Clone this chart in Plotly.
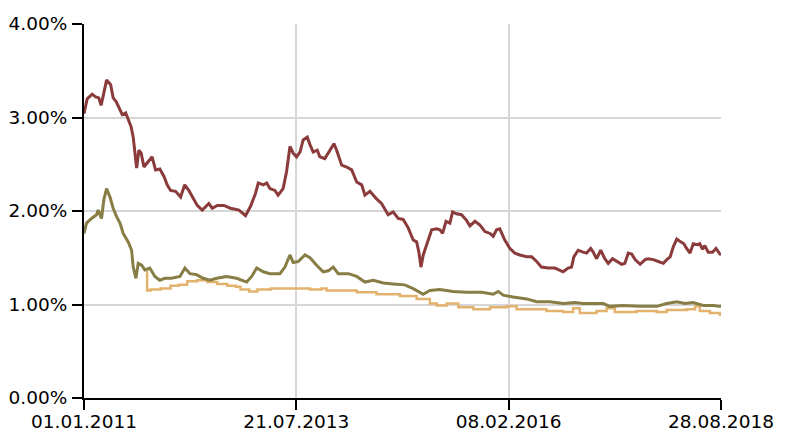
import plotly.graph_objects as go

# Series 1 (dark red)
red_dates = ["2011-01-01","2011-01-15","2011-02-06","2011-02-21","2011-03-07","2011-03-17","2011-03-29","2011-04-10","2011-04-28","2011-05-09","2011-05-22","2011-06-03","2011-06-18","2011-07-03","2011-07-17","2011-07-27","2011-08-05","2011-08-15","2011-08-20","2011-08-30","2011-09-09","2011-09-21","2011-10-05","2011-10-27","2011-11-11","2011-11-30","2011-12-18","2012-01-01","2012-01-16","2012-02-07","2012-02-29","2012-03-18","2012-04-05","2012-04-20","2012-05-12","2012-06-03","2012-07-02","2012-07-17","2012-08-08","2012-09-06","2012-10-05","2012-11-11","2012-12-10","2013-01-01","2013-01-23","2013-02-04","2013-02-26","2013-03-13","2013-03-27","2013-04-18","2013-05-02","2013-05-24","2013-06-08","2013-06-23","2013-07-07","2013-07-22","2013-08-06","2013-08-20","2013-09-07","2013-09-19","2013-10-03","2013-10-21","2013-11-01","2013-11-23","2013-12-15","2014-01-02","2014-01-14","2014-02-05","2014-02-27","2014-03-21","2014-04-12","2014-05-04","2014-05-18","2014-06-09","2014-07-08","2014-07-30","2014-08-28","2014-09-19","2014-10-11","2014-11-02","2014-11-24","2014-12-16","2014-12-31","2015-01-10","2015-01-19","2015-01-29","2015-02-13","2015-03-07","2015-03-29","2015-04-12","2015-04-24","2015-05-09","2015-05-26","2015-06-07","2015-06-24","2015-07-16","2015-08-07","2015-08-22","2015-09-13","2015-10-05","2015-10-27","2015-11-18","2015-12-02","2015-12-17","2015-12-31","2016-01-22","2016-02-13","2016-03-06","2016-03-28","2016-04-27","2016-05-19","2016-06-10","2016-07-01","2016-07-30","2016-08-29","2016-09-20","2016-10-04","2016-10-26","2016-11-10","2016-11-20","2016-12-09","2016-12-31","2017-01-15","2017-02-02","2017-02-13","2017-02-28","2017-03-18","2017-04-05","2017-04-20","2017-05-09","2017-05-29","2017-06-18","2017-07-02","2017-07-17","2017-08-01","2017-08-16","2017-09-07","2017-09-29","2017-10-13","2017-11-04","2017-11-26","2017-12-18","2018-01-02","2018-01-17","2018-01-31","2018-02-15","2018-03-04","2018-03-18","2018-03-30","2018-04-14","2018-04-28","2018-05-16","2018-05-27","2018-06-08","2018-06-18","2018-07-03","2018-07-22","2018-08-06","2018-08-23","2018-08-28"]
red_values = [3.04,3.20,3.25,3.22,3.21,3.13,3.26,3.40,3.35,3.21,3.17,3.10,3.03,3.05,2.97,2.90,2.79,2.58,2.46,2.65,2.62,2.47,2.51,2.58,2.44,2.45,2.37,2.28,2.22,2.21,2.15,2.28,2.22,2.15,2.06,2.01,2.08,2.03,2.06,2.06,2.03,2.01,1.95,2.05,2.19,2.30,2.28,2.30,2.24,2.22,2.17,2.24,2.42,2.69,2.62,2.58,2.63,2.76,2.79,2.71,2.63,2.65,2.58,2.56,2.65,2.72,2.65,2.49,2.47,2.44,2.31,2.28,2.17,2.21,2.13,2.08,1.96,1.99,1.92,1.91,1.82,1.69,1.67,1.56,1.40,1.53,1.64,1.80,1.81,1.80,1.76,1.89,1.87,1.99,1.97,1.96,1.90,1.84,1.89,1.85,1.78,1.76,1.73,1.80,1.81,1.69,1.60,1.55,1.53,1.51,1.51,1.46,1.40,1.39,1.39,1.37,1.35,1.39,1.40,1.51,1.58,1.56,1.55,1.60,1.56,1.49,1.58,1.49,1.44,1.49,1.46,1.43,1.44,1.55,1.54,1.48,1.43,1.48,1.49,1.48,1.46,1.44,1.48,1.51,1.62,1.70,1.67,1.65,1.60,1.55,1.65,1.64,1.65,1.59,1.63,1.56,1.56,1.60,1.54,1.53]

# Series 2 (olive)
olive_dates = ["2011-01-01","2011-01-12","2011-02-03","2011-02-25","2011-03-04","2011-03-19","2011-03-29","2011-04-10","2011-04-25","2011-05-09","2011-05-24","2011-06-08","2011-06-22","2011-07-14","2011-07-29","2011-08-05","2011-08-17","2011-08-27","2011-09-11","2011-09-25","2011-10-17","2011-11-08","2011-11-30","2011-12-22","2012-01-20","2012-02-26","2012-03-19","2012-04-10","2012-05-09","2012-06-07","2012-07-07","2012-08-05","2012-09-18","2012-11-01","2012-12-15","2013-01-06","2013-01-28","2013-02-26","2013-03-27","2013-05-10","2013-06-01","2013-06-23","2013-07-07","2013-07-29","2013-08-28","2013-09-19","2013-10-18","2013-11-16","2013-12-08","2013-12-30","2014-01-21","2014-03-06","2014-04-12","2014-05-18","2014-06-24","2014-08-07","2014-09-19","2014-11-09","2014-12-16","2015-01-07","2015-01-29","2015-02-27","2015-04-12","2015-06-09","2015-08-07","2015-10-12","2015-12-02","2015-12-24","2016-01-15","2016-02-28","2016-04-27","2016-06-10","2016-08-07","2016-10-04","2016-11-24","2016-12-31","2017-02-28","2017-03-29","2017-04-27","2017-06-25","2017-09-07","2017-11-19","2018-01-02","2018-02-15","2018-03-23","2018-04-28","2018-06-11","2018-07-25","2018-08-23","2018-08-28"]
olive_values = [1.76,1.87,1.92,1.96,2.01,1.92,2.12,2.24,2.15,2.03,1.94,1.87,1.76,1.67,1.58,1.40,1.28,1.44,1.42,1.37,1.39,1.30,1.26,1.28,1.28,1.30,1.39,1.33,1.32,1.28,1.26,1.28,1.30,1.28,1.24,1.30,1.39,1.35,1.33,1.33,1.40,1.53,1.45,1.46,1.53,1.50,1.42,1.35,1.36,1.40,1.33,1.33,1.30,1.24,1.26,1.23,1.22,1.21,1.17,1.14,1.11,1.15,1.16,1.14,1.13,1.13,1.11,1.14,1.10,1.08,1.06,1.03,1.03,1.01,1.02,1.01,1.01,1.01,0.98,0.99,0.98,0.98,1.01,1.03,1.01,1.02,0.99,0.99,0.98,0.98]

# Series 3 (tan)
tan_dates = ["2011-09-30","2011-10-05","2011-10-20","2011-12-03","2012-01-16","2012-02-21","2012-03-14","2012-03-29","2012-05-12","2012-06-25","2012-08-08","2012-09-21","2012-10-28","2012-11-18","2012-12-26","2013-01-31","2013-03-31","2013-05-28","2013-08-16","2013-09-19","2013-11-09","2013-12-01","2014-01-29","2014-04-12","2014-07-08","2014-10-19","2014-12-31","2015-02-27","2015-03-29","2015-05-12","2015-07-02","2015-09-06","2015-11-18","2016-01-31","2016-03-14","2016-05-11","2016-07-23","2016-10-04","2016-11-17","2016-12-16","2017-02-28","2017-04-13","2017-05-19","2017-08-23","2017-11-19","2018-01-02","2018-03-30","2018-05-06","2018-05-27","2018-07-10","2018-08-23","2018-08-28"]
tan_values = [1.36,1.15,1.16,1.17,1.20,1.21,1.21,1.25,1.26,1.24,1.22,1.20,1.19,1.16,1.14,1.16,1.17,1.17,1.17,1.16,1.17,1.15,1.15,1.13,1.11,1.09,1.06,1.01,0.99,1.01,0.97,0.95,0.97,0.98,0.95,0.95,0.93,0.92,0.96,0.91,0.93,0.96,0.92,0.93,0.92,0.94,0.95,0.98,0.93,0.91,0.89,0.89]

x_tickvals = ["2011-01-01", "2013-07-21", "2016-02-08", "2018-08-28"]
x_ticktext = ["01.01.2011", "21.07.2013", "08.02.2016", "28.08.2018"]
y_tickvals = [0, 1, 2, 3, 4]
y_ticktext = ["0.00%", "1.00%", "2.00%", "3.00%", "4.00%"]

fig = go.Figure()
fig.add_trace(go.Scatter(x=tan_dates, y=tan_values, mode="lines",
                         line=dict(color="#E3B26C", width=2.5, shape="hv"), name="s3"))
fig.add_trace(go.Scatter(x=olive_dates, y=olive_values, mode="lines",
                         line=dict(color="#877D45", width=3), name="s2"))
fig.add_trace(go.Scatter(x=red_dates, y=red_values, mode="lines",
                         line=dict(color="#8B3B3B", width=3), name="s1"))

fig.update_layout(
    width=785, height=442,
    margin=dict(l=84, r=64, t=24, b=44, autoexpand=False),
    plot_bgcolor="white", paper_bgcolor="white",
    showlegend=False,
    font=dict(family="DejaVu Sans", size=18.5, color="black"),
)
fig.update_xaxes(
    type="date", range=["2011-01-01", "2018-08-28"],
    tickvals=x_tickvals, ticktext=x_ticktext,
    showgrid=True, gridcolor="#D6D6D6", gridwidth=2,
    showline=True, linecolor="black", linewidth=2,
    ticks="outside", ticklen=10, tickwidth=2, tickcolor="black",
    zeroline=False, automargin=False, ticklabelstandoff=-4,
)
fig.update_yaxes(
    range=[0, 4], tickvals=y_tickvals, ticktext=y_ticktext,
    showgrid=True, gridcolor="#D6D6D6", gridwidth=2,
    showline=True, linecolor="black", linewidth=2,
    ticks="outside", ticklen=10, tickwidth=2, tickcolor="black",
    zeroline=False, automargin=False, ticklabelstandoff=1,
)
fig.write_html(
    "out.html",
    config={"displayModeBar": False},
    post_script="document.body.style.margin='0';document.body.style.padding='0';",
)
